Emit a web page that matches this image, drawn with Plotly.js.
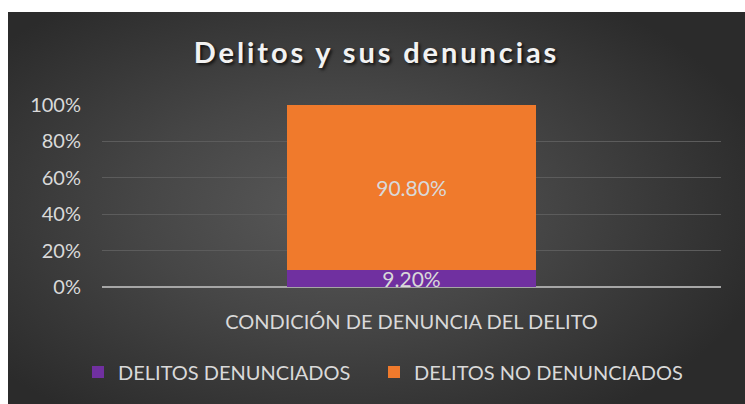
<!DOCTYPE html>
<html>
<head>
<meta charset="utf-8">
<script src="https://cdn.plot.ly/plotly-3.0.1.min.js"></script>
<style>
  html, body { margin: 0; padding: 0; background: #ffffff; }
  #panel {
    position: absolute; left: 8px; top: 12px; width: 737px; height: 392px;
    background: radial-gradient(ellipse 60% 65% at 45% 50%, #595959 0%, #464646 45%, #2b2b2b 100%);
  }
  #chart { width: 737px; height: 392px; }
  .gtitle { letter-spacing: 2.9px; }
</style>
</head>
<body>
<div id="panel"><div id="chart"></div></div>
<script>
const categories = ["CONDICIÓN DE DENUNCIA DEL DELITO"];
const seriesNames = ["DELITOS DENUNCIADOS", "DELITOS NO DENUNCIADOS"];
const denunciados = [0.092];
const noDenunciados = [0.908];
const yTickValues = [0, 0.2, 0.4, 0.6, 0.8, 1.0];
const yTickLabels = ["0%", "20%", "40%", "60%", "80%", "100%"];

const FONT = "Lato, 'Open Sans', sans-serif";
const txt = { family: FONT, size: 20, color: "#d9d9d9" };
const barTxt = { family: FONT, size: 21, color: "#d9d9d9" };

const traces = [
  {
    type: "bar", name: seriesNames[0], x: categories, y: denunciados,
    marker: { color: "#7030a0" },
    width: 0.402, legend: "legend",
    texttemplate: "%{y:.2%}", textposition: "inside", insidetextanchor: "middle",
    constraintext: "none", textfont: barTxt, cliponaxis: false, hoverinfo: "skip"
  },
  {
    type: "bar", name: seriesNames[1], x: categories, y: noDenunciados,
    marker: { color: "#f07a2c" },
    width: 0.402, legend: "legend2",
    texttemplate: "%{y:.2%}", textposition: "inside", insidetextanchor: "middle",
    constraintext: "none", textfont: barTxt, cliponaxis: false, hoverinfo: "skip"
  }
];

const legendBase = {
  orientation: "h", xanchor: "left", xref: "container",
  y: 1 - 360 / 392, yanchor: "middle", yref: "container",
  font: txt, bgcolor: "rgba(0,0,0,0)"
};

const layout = {
  width: 737, height: 392,
  margin: { l: 94, r: 24, t: 93, b: 117 },
  paper_bgcolor: "rgba(0,0,0,0)",
  plot_bgcolor: "rgba(0,0,0,0)",
  barmode: "stack",
  showlegend: true,
  title: {
    text: "<b>Delitos y sus denuncias</b>",
    font: { family: FONT, size: 29, color: "#f2f2f2", shadow: "2px 2px 3px rgba(0,0,0,0.7)" },
    x: 0.5, xanchor: "center", xref: "container",
    y: 1 - 41 / 392, yanchor: "middle", yref: "container"
  },
  xaxis: {
    type: "category",
    showgrid: false, zeroline: false, showline: false, ticks: "",
    tickfont: txt, ticklabelstandoff: 21,
    fixedrange: true
  },
  yaxis: {
    range: [0, 1], tickvals: yTickValues, ticktext: yTickLabels,
    showgrid: true, gridcolor: "#5c5c5c", gridwidth: 1,
    zeroline: true, zerolinecolor: "#a6a6a6", zerolinewidth: 2,
    showline: false, ticks: "", tickfont: txt, ticklabelstandoff: 20,
    fixedrange: true
  },
  legend: Object.assign({}, legendBase, { x: 70 / 737 }),
  legend2: Object.assign({}, legendBase, { x: 366 / 737 })
};

Plotly.newPlot("chart", traces, layout, { staticPlot: true, displayModeBar: false });
</script>
</body>
</html>
